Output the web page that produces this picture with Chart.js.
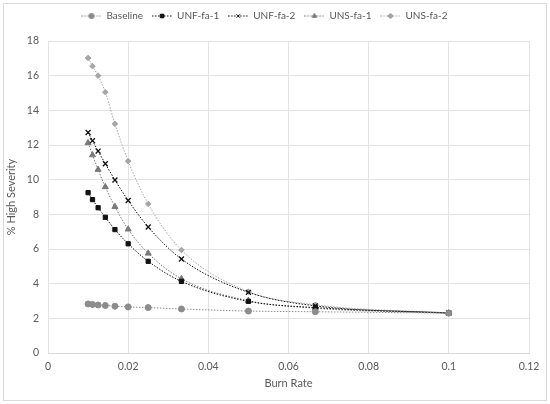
<!DOCTYPE html>
<html>
<head>
<meta charset="utf-8">
<script src="https://cdn.jsdelivr.net/npm/chart.js@4.4.0/dist/chart.umd.min.js"></script>
<style>
  html, body { margin: 0; padding: 0; background: #fff; }
  #wrap { width: 550px; height: 404px; position: relative; }
</style>
</head>
<body>
<div id="wrap"><canvas id="chart" width="550" height="404"></canvas></div>
<script>
// burn rate values (x) and % high severity per scenario
const burnRate = [0.01, 0.0111, 0.0125, 0.0143, 0.0167, 0.02, 0.025, 0.0333, 0.05, 0.0667, 0.1];
const baseline = [2.83, 2.80, 2.77, 2.74, 2.70, 2.66, 2.62, 2.54, 2.42, 2.38, 2.30];
const unfFa1 = [9.25, 8.85, 8.38, 7.83, 7.12, 6.30, 5.29, 4.13, 2.98, 2.62, 2.30];
const unfFa2 = [12.72, 12.25, 11.65, 10.92, 9.98, 8.80, 7.27, 5.42, 3.50, 2.72, 2.31];
const unsFa1 = [12.12, 11.42, 10.58, 9.58, 8.44, 7.14, 5.75, 4.28, 3.02, 2.58, 2.30];
const unsFa2 = [17.02, 16.55, 16.0, 15.05, 13.22, 11.07, 8.6, 5.94, 3.54, 2.78, 2.31];
const seriesNames = ["Baseline", "UNF-fa-1", "UNF-fa-2", "UNS-fa-1", "UNS-fa-2"];
const xTicks = [0, 0.02, 0.04, 0.06, 0.08, 0.1, 0.12];

const seriesValues = [baseline, unfFa1, unfFa2, unsFa1, unsFa2];
const colors = ["#8c8c8c", "#111111", "#111111", "#7a7a7a", "#a6a6a6"];
const markers = ["circle", "rect", "crossRot", "triangle", "rectRot"];
const radii = [3, 3, 3.5, 3.5, 2.8];

const datasets = seriesNames.map((name, i) => ({
  label: name,
  data: burnRate.map((x, j) => ({ x: x, y: seriesValues[i][j] })),
  borderColor: colors[i],
  backgroundColor: colors[i],
  borderWidth: 1,
  borderDash: [1.5, 1.5],
  pointStyle: markers[i],
  pointRadius: radii[i],
  pointBorderWidth: markers[i] === "crossRot" ? 1.3 : 1,
  showLine: true,
  tension: 0.4,
  cubicInterpolationMode: "monotone",
}));

// legend sample: dotted line with the marker in the middle
function legendIcon(i) {
  const c = document.createElement("canvas");
  c.width = 20;
  c.height = 8;
  const g = c.getContext("2d");
  g.strokeStyle = colors[i];
  g.lineWidth = 1;
  g.setLineDash([1.5, 1.5]);
  g.beginPath();
  g.moveTo(0, 4);
  g.lineTo(20, 4);
  g.stroke();
  g.setLineDash([]);
  Chart.helpers.drawPoint(g, { pointStyle: markers[i], radius: 2.5, borderWidth: 1 }, 10, 4);
  g.fillStyle = colors[i];
  g.fill();
  return c;
}

const frame = {
  id: "frame",
  beforeDraw(chart) {
    const g = chart.ctx;
    g.save();
    g.fillStyle = "#fff";
    g.fillRect(0, 0, chart.width, chart.height);
    g.strokeStyle = "#d9d9d9";
    g.lineWidth = 1;
    g.strokeRect(3.5, 3.5, chart.width - 7, chart.height - 7);
    g.restore();
  },
};

// a bit of extra room under the legend
const legendGap = {
  id: "legendGap",
  beforeLayout(chart) {
    const leg = chart.legend;
    if (leg && !leg._gapPatched) {
      const fit = leg.fit.bind(leg);
      leg.fit = function () {
        fit();
        this.height += 10;
      };
      leg._gapPatched = true;
    }
  },
};

Chart.defaults.font.family = "Lato, 'Open Sans', sans-serif";
Chart.defaults.font.size = 10.5;
Chart.defaults.color = "#595959";

new Chart(document.getElementById("chart"), {
  type: "scatter",
  data: { datasets: datasets },
  plugins: [frame, legendGap],
  options: {
    responsive: false,
    animation: false,
    layout: { padding: { left: 0, right: 21, top: 2, bottom: 0 } },
    plugins: {
      tooltip: { enabled: false },
      legend: {
        position: "top",
        labels: {
          boxWidth: 20,
          boxHeight: 8,
          pointStyleWidth: 20,
          padding: 9,
          usePointStyle: true,
          color: "#595959",
          font: { size: 10 },
          generateLabels: (chart) =>
            chart.data.datasets.map((ds, i) => ({
              text: ds.label,
              pointStyle: legendIcon(i),
              fontColor: "#595959",
              datasetIndex: i,
              hidden: false,
              lineWidth: 0,
              strokeStyle: "transparent",
            })),
        },
      },
    },
    scales: {
      x: {
        type: "linear",
        min: 0,
        max: 0.12,
        afterBuildTicks: (axis) => {
          axis.ticks = xTicks.map((v) => ({ value: v }));
        },
        afterFit: (axis) => {
          axis.height = 51;
        },
        ticks: { padding: 7, callback: (v) => String(v) },
        grid: { color: "#e3e3e3", drawTicks: false },
        border: { color: "#d9d9d9" },
        title: { display: true, text: "Burn Rate", color: "#595959", font: { size: 11 }, padding: { top: 4, bottom: 14 } },
      },
      y: {
        min: 0,
        max: 18,
        ticks: { stepSize: 2, padding: 9 },
        afterFit: (axis) => {
          axis.width = 48;
        },
        grid: { color: "#e3e3e3", drawTicks: false },
        border: { display: false },
        title: { display: true, text: "% High Severity", color: "#595959", font: { size: 11 }, padding: { top: 5, bottom: 0 } },
      },
    },
  },
});
</script>
</body>
</html>
